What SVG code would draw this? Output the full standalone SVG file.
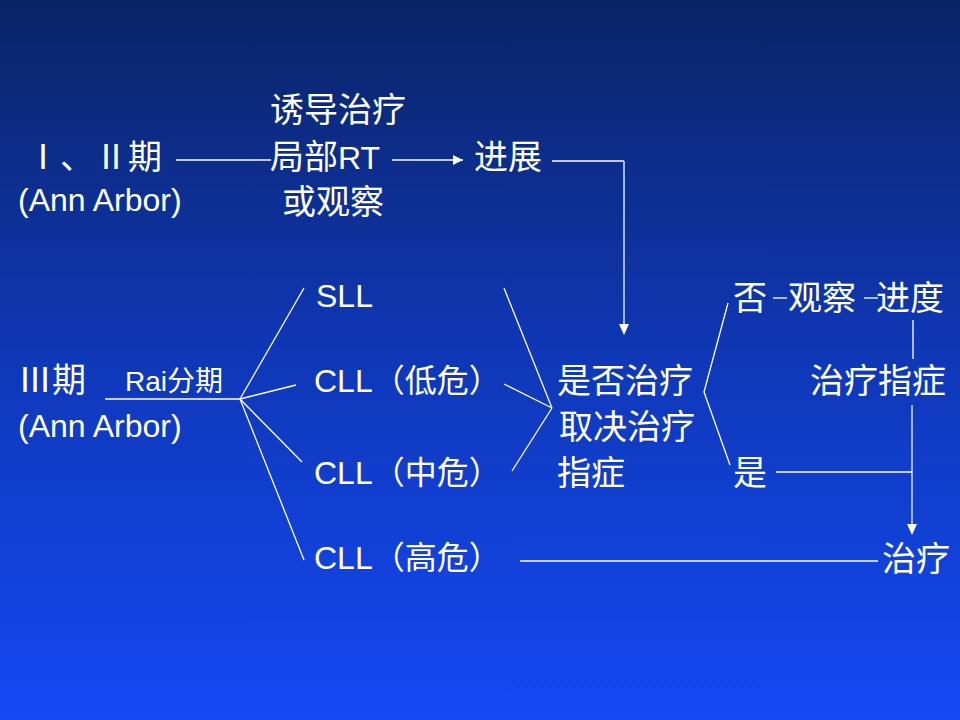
<svg xmlns="http://www.w3.org/2000/svg" width="960" height="720" viewBox="0 0 960 720">
<defs>
<linearGradient id="bg" x1="0" y1="0" x2="0" y2="1">
<stop offset="0" stop-color="#0a2466"/>
<stop offset="0.5" stop-color="#0f38b8"/>
<stop offset="1" stop-color="#1449f4"/>
</linearGradient>
<marker id="ah" viewBox="0 0 10 10" refX="10" refY="5" markerWidth="10" markerHeight="10" markerUnits="userSpaceOnUse" orient="auto">
<path d="M0,0 L10,5 L0,10 z" fill="#ffffff"/>
</marker>
<style>
text{fill:#ffffff;}
.cn{font-family:"Liberation Serif","Noto Sans CJK SC",serif;font-size:34px;}
.en{font-family:"Liberation Sans","Noto Sans CJK SC",sans-serif;font-size:32px;}
.sm{font-family:"Liberation Sans","Noto Sans CJK SC",sans-serif;font-size:28px;}
.ln{stroke:#ffffff;stroke-width:1.3;fill:none;}
.lt{stroke:#9fb4f0;stroke-width:2;fill:none;}
</style>
</defs>
<rect width="960" height="720" fill="url(#bg)"/>
<g id="connectors">
<line class="ln" x1="176" y1="160" x2="271" y2="160"/>
<line class="ln" x1="392" y1="160" x2="463" y2="160" marker-end="url(#ah)"/>
<polyline class="ln" points="552,161 624,161"/>
<line class="lt" x1="624" y1="161" x2="624" y2="325"/>
<path d="M619,324 L629,324 L624,335 z" fill="#ffffff"/>
<line class="ln" x1="105" y1="399" x2="240" y2="399"/>
<line class="ln" x1="240" y1="399" x2="304" y2="288"/>
<line class="ln" x1="240" y1="399" x2="296" y2="385"/>
<line class="ln" x1="240" y1="399" x2="302" y2="462"/>
<line class="ln" x1="240" y1="399" x2="304" y2="560"/>
<line class="ln" x1="504" y1="288" x2="552" y2="408"/>
<line class="ln" x1="504" y1="384" x2="552" y2="408"/>
<line class="ln" x1="552" y1="408" x2="512" y2="471"/>
<line class="ln" x1="520" y1="561" x2="878" y2="561"/>
<line class="ln" x1="704" y1="392" x2="728" y2="303"/>
<line class="ln" x1="704" y1="392" x2="730" y2="465"/>
<line class="ln" x1="773" y1="298" x2="787" y2="298"/>
<line class="ln" x1="864" y1="298" x2="878" y2="298"/>
<line class="ln" x1="913" y1="320" x2="913" y2="359"/>
<line class="lt" x1="912" y1="405" x2="912" y2="525"/>
<path d="M907,524 L917,524 L912,535 z" fill="#ffffff"/>
<line class="ln" x1="776" y1="472" x2="912" y2="472"/>
</g>
<g id="stage12">
<text class="cn" x="26" y="169">Ⅰ、Ⅱ期</text>
<text class="en" x="18" y="211">(Ann Arbor)</text>
</g>
<g id="treat1">
<text class="cn" x="270" y="122">诱导治疗</text>
<text class="cn" x="270" y="169">局部<tspan class="en">RT</tspan></text>
<text class="cn" x="282" y="214">或观察</text>
</g>
<g id="progress">
<text class="cn" x="474" y="169">进展</text>
</g>
<g id="stage3">
<text class="cn" x="18" y="392">Ⅲ期</text>
<text class="sm" x="125" y="391">Rai分期</text>
<text class="en" x="18" y="437">(Ann Arbor)</text>
</g>
<g id="sll"><text class="en" x="316" y="307">SLL</text></g>
<g id="cll-low"><text class="en" x="314" y="392">CLL（低危）</text></g>
<g id="cll-mid"><text class="en" x="314" y="484">CLL（中危）</text></g>
<g id="cll-high"><text class="en" x="314" y="569">CLL（高危）</text></g>
<g id="decide">
<text class="cn" x="557" y="393">是否治疗</text>
<text class="cn" x="559" y="439">取决治疗</text>
<text class="cn" x="557" y="485">指症</text>
</g>
<g id="no"><text class="cn" x="733" y="310">否</text></g>
<g id="observe"><text class="cn" x="788" y="310">观察</text></g>
<g id="degree"><text class="cn" x="876" y="310">进度</text></g>
<g id="indication"><text class="cn" x="810" y="393">治疗指症</text></g>
<g id="yes"><text class="cn" x="733" y="485">是</text></g>
<g id="therapy"><text class="cn" x="882" y="571">治疗</text></g>
</svg>
